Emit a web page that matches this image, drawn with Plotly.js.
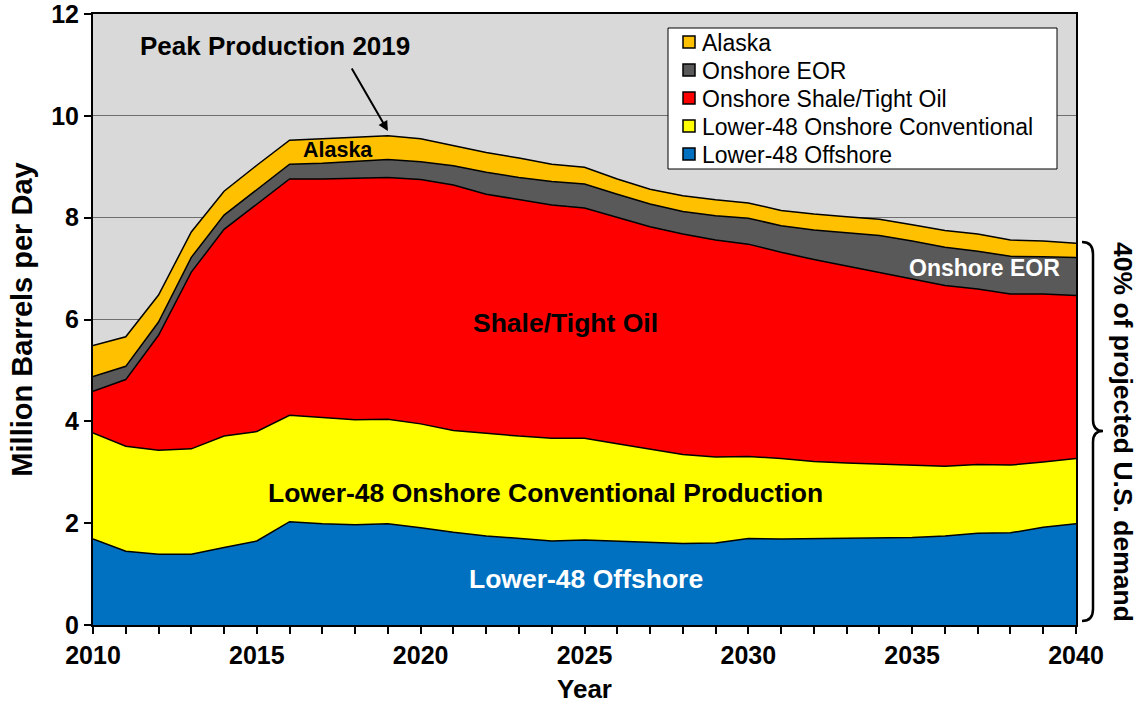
<!DOCTYPE html>
<html>
<head>
<meta charset="utf-8">
<script src="https://cdn.plot.ly/plotly-3.0.1.min.js"></script>
<style>
  html, body { margin: 0; padding: 0; background: #ffffff; }
  #chart { width: 1138px; height: 709px; }
</style>
</head>
<body>
<div id="chart"></div>
<script>
// ---- Data (million barrels per day) ----
const years = [2010,2011,2012,2013,2014,2015,2016,2017,2018,2019,2020,2021,2022,2023,2024,2025,2026,2027,2028,2029,2030,2031,2032,2033,2034,2035,2036,2037,2038,2039,2040];
const lower48Offshore = [1.69,1.45,1.39,1.39,1.52,1.65,2.03,1.99,1.97,1.99,1.91,1.82,1.75,1.70,1.65,1.67,1.65,1.62,1.60,1.61,1.70,1.69,1.70,1.70,1.71,1.72,1.75,1.80,1.81,1.92,1.99];
const lower48Conventional = [2.08,2.06,2.04,2.07,2.19,2.15,2.09,2.08,2.06,2.05,2.04,2.00,2.01,2.01,2.02,2.00,1.91,1.83,1.75,1.69,1.61,1.58,1.51,1.48,1.45,1.42,1.37,1.35,1.33,1.28,1.28];
const shaleTightOil = [0.82,1.31,2.26,3.47,4.06,4.47,4.64,4.69,4.74,4.75,4.80,4.82,4.70,4.64,4.58,4.52,4.45,4.37,4.33,4.26,4.17,4.05,3.97,3.87,3.77,3.66,3.55,3.45,3.36,3.30,3.20];
const onshoreEOR = [0.29,0.26,0.26,0.29,0.28,0.28,0.29,0.31,0.33,0.35,0.35,0.38,0.43,0.44,0.46,0.47,0.45,0.45,0.44,0.48,0.51,0.52,0.58,0.65,0.72,0.74,0.75,0.74,0.74,0.73,0.75];
const alaska = [0.61,0.58,0.53,0.50,0.47,0.48,0.47,0.48,0.47,0.47,0.45,0.40,0.39,0.38,0.34,0.33,0.30,0.29,0.31,0.31,0.30,0.30,0.31,0.32,0.32,0.32,0.33,0.34,0.32,0.31,0.28];

const seriesNames = ["Lower-48 Offshore","Lower-48 Onshore Conventional","Onshore Shale/Tight Oil","Onshore EOR","Alaska"];
const seriesValues = [lower48Offshore, lower48Conventional, shaleTightOil, onshoreEOR, alaska];
const seriesColors = ["#0070c0","#ffff00","#ff0000","#595959","#ffc000"];
const legendOrder = ["Alaska","Onshore EOR","Onshore Shale/Tight Oil","Lower-48 Onshore Conventional","Lower-48 Offshore"];
const xTickVals = [2010,2015,2020,2025,2030,2035,2040];
const xTickText = ["2010","2015","2020","2025","2030","2035","2040"];
const yTickVals = [0,2,4,6,8,10,12];

const FONT = "Arial, 'Liberation Sans', sans-serif";

const traces = seriesNames.map((name, i) => ({
  type: "scatter",
  mode: "lines",
  name: name,
  x: years,
  y: seriesValues[i],
  stackgroup: "one",
  fillcolor: seriesColors[i],
  line: { color: "#000000", width: 1.5, shape: "linear" },
  hoverinfo: "x+y+name"
}));

// plot area geometry (for paper-referenced decorations)
const L = 93, R = 62, T = 14, B = 84, W = 1138, H = 709;
const pw = W - L - R, ph = H - T - B;
const px = v => (v - L) / pw;
const py = v => (H - B - v) / ph;
const bracePath =
  `M ${px(1082)},${py(242)} Q ${px(1093)},${py(242)} ${px(1093)},${py(254)} ` +
  `L ${px(1093)},${py(420)} Q ${px(1093)},${py(431)} ${px(1103)},${py(431)} ` +
  `Q ${px(1093)},${py(431)} ${px(1093)},${py(442)} ` +
  `L ${px(1093)},${py(609)} Q ${px(1093)},${py(621)} ${px(1082)},${py(621)}`;

// hand-placed legend box (matches reference geometry)
const shapes = [
  { type: "path", xref: "paper", yref: "paper", path: bracePath, line: { color: "#000000", width: 2.5 } },
  { type: "rect", xref: "paper", yref: "paper", x0: px(668), x1: px(1057), y0: py(28), y1: py(169),
    fillcolor: "#ffffff", line: { color: "#000000", width: 1 }, layer: "above" }
];
const annotations = [];
legendOrder.forEach((name, k) => {
  const i = seriesNames.indexOf(name);
  const cy = 42 + 28 * k;
  shapes.push({ type: "rect", xref: "paper", yref: "paper",
    x0: px(683), x1: px(695), y0: py(cy - 6), y1: py(cy + 6),
    fillcolor: seriesColors[i], line: { color: "#000000", width: 1.5 }, layer: "above" });
  annotations.push({ xref: "paper", yref: "paper", x: px(700), y: py(cy + 1), text: name,
    showarrow: false, xanchor: "left", yanchor: "middle",
    font: { family: FONT, size: 23, color: "#000000" } });
});

annotations.push(
  { xref: "x", yref: "y", x: 2015.55, y: 11.37, text: "<b>Peak Production 2019</b>", showarrow: false,
    font: { family: FONT, size: 26, color: "#000000" } },
  { xref: "x", yref: "y", x: 2019, y: 9.70, text: "", showarrow: true,
    ax: -37, ay: -64, arrowhead: 2, arrowsize: 1, arrowwidth: 2, arrowcolor: "#000000" },
  { xref: "x", yref: "y", x: 2017.48, y: 9.33, text: "<b>Alaska</b>", showarrow: false,
    font: { family: FONT, size: 21.5, color: "#000000" } },
  { xref: "x", yref: "y", x: 2037.22, y: 7.01, text: "<b>Onshore EOR</b>", showarrow: false,
    font: { family: FONT, size: 23, color: "#ffffff" } },
  { xref: "x", yref: "y", x: 2024.43, y: 5.93, text: "<b>Shale/Tight Oil</b>", showarrow: false,
    font: { family: FONT, size: 26.5, color: "#000000" } },
  { xref: "x", yref: "y", x: 2023.82, y: 2.59, text: "<b>Lower-48 Onshore Conventional Production</b>", showarrow: false,
    font: { family: FONT, size: 26.5, color: "#000000" } },
  { xref: "x", yref: "y", x: 2025.04, y: 0.90, text: "<b>Lower-48 Offshore</b>", showarrow: false,
    font: { family: FONT, size: 26.5, color: "#ffffff" } },
  { xref: "paper", yref: "paper", x: px(1123), y: py(432), text: "<b>40% of projected U.S. demand</b>",
    showarrow: false, textangle: 90, xanchor: "center", yanchor: "middle",
    font: { family: FONT, size: 26.5, color: "#000000" } }
);

const layout = {
  width: W, height: H,
  margin: { l: L, r: R, t: T, b: B, pad: 0 },
  paper_bgcolor: "#ffffff",
  plot_bgcolor: "#d9d9d9",
  font: { family: FONT, color: "#000000" },
  showlegend: false,
  xaxis: {
    range: [2010, 2040],
    tickmode: "array", tickvals: xTickVals, ticktext: xTickText,
    ticks: "outside", ticklen: 7, tickwidth: 2, tickcolor: "#000000",
    minor: { dtick: 1, ticks: "outside", ticklen: 7, tickwidth: 2, tickcolor: "#000000", showgrid: false },
    showline: true, linecolor: "#000000", linewidth: 2, mirror: true,
    showgrid: false, zeroline: false, ticklabeloverflow: "allow",
    tickfont: { family: FONT, size: 25, color: "#000000", weight: "bold" },
    title: { text: "<b>Year</b>", font: { family: FONT, size: 26, color: "#000000" }, standoff: 12 }
  },
  yaxis: {
    range: [0, 12],
    tickmode: "array", tickvals: yTickVals,
    ticks: "outside", ticklen: 7, tickwidth: 2, tickcolor: "#000000",
    showline: true, linecolor: "#000000", linewidth: 2, mirror: true,
    showgrid: true, gridcolor: "#6e6e6e", gridwidth: 1, zeroline: false, ticklabeloverflow: "allow",
    tickfont: { family: FONT, size: 25, color: "#000000", weight: "bold" },
    title: { text: "<b>Million Barrels per Day</b>", font: { family: FONT, size: 29, color: "#000000" }, standoff: 10 }
  },
  shapes: shapes,
  annotations: annotations
};

Plotly.newPlot("chart", traces, layout, { displayModeBar: false, staticPlot: true });
</script>
</body>
</html>
